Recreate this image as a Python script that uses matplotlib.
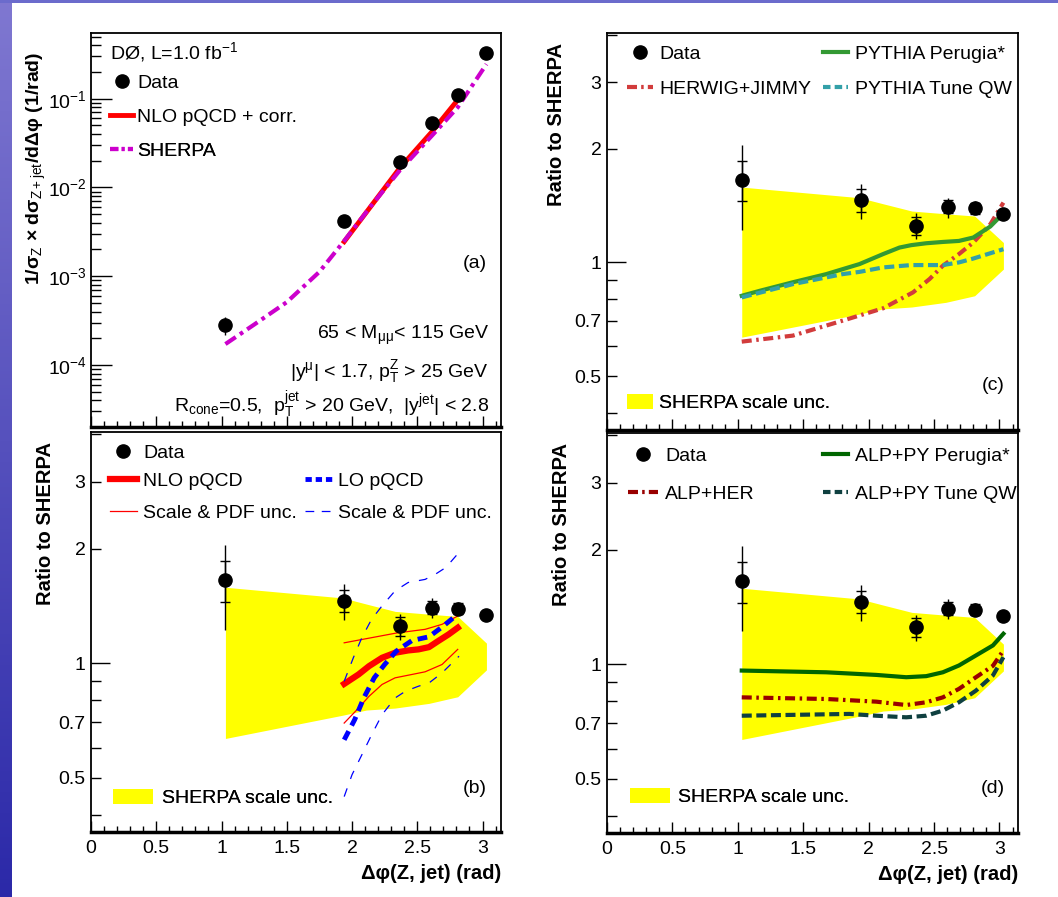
import numpy as np
import matplotlib
matplotlib.use('Agg')
import matplotlib.pyplot as plt
from matplotlib.lines import Line2D
from matplotlib.patches import Patch
from matplotlib.ticker import FixedLocator, FuncFormatter, MultipleLocator, LogLocator

plt.rcParams['font.family'] = ['Liberation Sans', 'DejaVu Sans']
plt.rcParams['mathtext.fontset'] = 'custom'
plt.rcParams['mathtext.rm'] = 'Liberation Sans'
plt.rcParams['mathtext.it'] = 'Liberation Sans:italic'
plt.rcParams['mathtext.bf'] = 'Liberation Sans:bold'

# ---- data ----
x_data = [1.03, 1.94, 2.365, 2.61, 2.81, 3.03]
xsec = [2.85e-4, 4.2e-3, 1.93e-2, 5.3e-2, 0.111, 0.33]
xsec_err_up = [0.6e-4, 0.45e-3, 1.5e-3, 3.2e-3, 4.5e-3, 7e-3]
xsec_err_dn = [0.7e-4, 0.45e-3, 1.5e-3, 3.2e-3, 4.5e-3, 7e-3]

ratio = [1.65, 1.46, 1.25, 1.40, 1.39, 1.34]
stat_up = [0.21, 0.10, 0.07, 0.06, 0.045, 0.02]
stat_dn = [0.20, 0.10, 0.07, 0.05, 0.045, 0.02]
tot_up = [0.39, 0.15, 0.10, 0.085, 0.06, 0.03]
tot_dn = [0.43, 0.16, 0.10, 0.085, 0.05, 0.03]

# panel (a) theory
sherpa_x = [1.03, 1.25, 1.5, 1.75, 1.94, 2.15, 2.365, 2.61, 2.81, 3.03]
sherpa_y = [1.72e-4, 2.85e-4, 5.1e-4, 1.12e-3, 2.5e-3, 6.3e-3, 1.55e-2, 3.8e-2, 8.0e-2, 0.245]
nlo_abs_x = [1.94, 2.365, 2.61, 2.81]
nlo_abs_y = [2.45e-3, 1.65e-2, 4.2e-2, 0.097]

# SHERPA scale uncertainty band (ratio)
band_x = [1.03, 1.93, 2.11, 2.33, 2.59, 2.81, 3.03]
band_up = [1.583, 1.484, 1.43, 1.368, 1.345, 1.327, 1.129]
band_dn = [0.634, 0.73, 0.753, 0.762, 0.784, 0.816, 0.96]

# panel (b)
nlo_x = [1.94, 2.05, 2.13, 2.23, 2.33, 2.43, 2.51, 2.59, 2.66, 2.74, 2.81]
nlo_r = [0.882, 0.934, 0.982, 1.033, 1.065, 1.080, 1.087, 1.102, 1.143, 1.19, 1.239]
nlo_up_x = [1.94, 2.34, 2.56, 2.69, 2.81]
nlo_up = [1.131, 1.20, 1.227, 1.265, 1.33]
nlo_dn_x = [1.94, 2.05, 2.13, 2.23, 2.33, 2.46, 2.56, 2.69, 2.81]
nlo_dn = [0.696, 0.762, 0.818, 0.879, 0.915, 0.934, 0.949, 0.992, 1.087]
lo_x = [1.94, 2.02, 2.09, 2.17, 2.25, 2.34, 2.46, 2.59, 2.70, 2.81]
lo_r = [0.629, 0.71, 0.81, 0.915, 0.992, 1.076, 1.147, 1.173, 1.252, 1.345]
lo_up_x = [1.94, 2.01, 2.075, 2.15, 2.23, 2.33, 2.43, 2.56, 2.64, 2.72, 2.82]
lo_up = [0.896, 1.033, 1.166, 1.304, 1.414, 1.549, 1.629, 1.66, 1.714, 1.785, 1.955]
lo_dn_x = [1.94, 2.0, 2.075, 2.15, 2.23, 2.33, 2.41, 2.51, 2.59, 2.69, 2.82]
lo_dn = [0.446, 0.509, 0.574, 0.648, 0.732, 0.81, 0.844, 0.87, 0.887, 0.943, 1.043]

# panel (c)
per_x = [1.03, 1.167, 1.42, 1.675, 1.93, 2.11, 2.236, 2.325, 2.44, 2.567, 2.69, 2.80, 2.93, 3.03]
per_r = [0.816, 0.841, 0.886, 0.931, 0.99, 1.052, 1.095, 1.111, 1.124, 1.133, 1.14, 1.164, 1.245, 1.349]
qw_x = [1.03, 1.42, 1.80, 1.93, 2.11, 2.325, 2.567, 2.69, 2.80, 3.03]
qw_r = [0.808, 0.876, 0.931, 0.944, 0.97, 0.984, 0.984, 1.0, 1.024, 1.084]
her_x = [1.03, 1.42, 1.80, 2.11, 2.339, 2.466, 2.567, 2.69, 2.80, 2.93, 3.03]
her_r = [0.617, 0.64, 0.701, 0.756, 0.833, 0.904, 0.98, 1.052, 1.129, 1.262, 1.44]

# panel (d)
alp_x = [1.03, 1.675, 2.058, 2.287, 2.44, 2.567, 2.69, 2.82, 2.95, 3.03]
alp_per = [0.962, 0.952, 0.937, 0.924, 0.93, 0.952, 0.992, 1.054, 1.12, 1.202]
alp_her = [0.818, 0.81, 0.797, 0.781, 0.794, 0.818, 0.861, 0.924, 0.99, 1.087]
alp_qw_x = [1.03, 1.854, 2.058, 2.287, 2.44, 2.567, 2.69, 2.82, 2.95, 3.03]
alp_qw = [0.732, 0.74, 0.732, 0.725, 0.732, 0.755, 0.794, 0.852, 0.934, 1.043]

FS = 14
W, H = 1058, 897
fig = plt.figure(figsize=(W / 100, H / 100), dpi=100)


def box(l, t, r, b):
    return [l / W, 1 - b / H, (r - l) / W, (b - t) / H]


# slide background strips
bg = fig.add_axes([0, 0, 12 / W, 1])
grad = np.linspace(0, 1, 256)[:, None]
top_c = np.array([0.50, 0.47, 0.82])
bot_c = np.array([0.17, 0.16, 0.66])
bg.imshow(top_c + grad[..., None] * (bot_c - top_c), aspect='auto')
bg.axis('off')
tp = fig.add_axes([0, 1 - 3 / H, 1, 3 / H])
tp.imshow(np.tile(np.array([0.42, 0.42, 0.80]), (1, 10, 1)), aspect='auto')
tp.axis('off')

ax_a = fig.add_axes(box(91, 33, 501, 427))
ax_b = fig.add_axes(box(91, 432, 501, 832))
ax_c = fig.add_axes(box(607, 33, 1018, 430))
ax_d = fig.add_axes(box(607, 433, 1018, 833))


def style(ax, ratio_panel, xlabels):
    ax.set_xlim(0, np.pi)
    ax.set_yscale('log')
    ax.xaxis.set_major_locator(MultipleLocator(0.5))
    ax.xaxis.set_minor_locator(MultipleLocator(0.1))
    ax.xaxis.set_major_formatter(FuncFormatter(lambda v, p: '%g' % v))
    ax.tick_params(which='both', direction='in', top=False, right=False,
                   labelsize=FS, width=1)
    ax.tick_params(axis='x', which='major', length=8, pad=6, labelbottom=xlabels)
    ax.tick_params(axis='x', which='minor', length=4)
    for sp in ax.spines.values():
        sp.set_linewidth(1.3)
    ax.spines['bottom'].set_linewidth(2.5)
    if ratio_panel:
        ax.set_ylim(0.36, 4.05)
        ax.yaxis.set_major_locator(FixedLocator([1]))
        ax.yaxis.set_major_formatter(FuncFormatter(lambda v, p: '1'))
        ax.yaxis.set_minor_locator(FixedLocator([0.4, 0.5, 0.6, 0.7, 0.8, 0.9, 2, 3, 4]))
        ax.yaxis.set_minor_formatter(FuncFormatter(
            lambda v, p: '%g' % v if round(v, 2) in (0.5, 0.7, 2.0, 3.0) else ''))
        ax.tick_params(axis='y', which='major', length=14, pad=4)
        ax.tick_params(axis='y', which='minor', length=7, pad=4)
        ax.fill_between(band_x, band_dn, band_up, color='#ffff00', lw=0, zorder=1)
        ax.text(-0.11 if ax is not ax_c else -0.122, 0.975, 'Ratio to SHERPA',
                rotation=90, ha='center', va='top', fontsize=FS + 0.5,
                fontweight='bold', transform=ax.transAxes)
    if xlabels:
        ax.text(1.0, -0.1025, 'Δφ(Z, jet) (rad)', ha='right', va='center',
                fontsize=FS + 0.5, fontweight='bold', transform=ax.transAxes)


def leg(ax, handle, label, x, y, hl, pad=0.3, hh=0.7):
    lg = ax.legend([handle], [label], loc='center left', bbox_to_anchor=(x, y),
                   bbox_transform=ax.transAxes, frameon=False, fontsize=FS,
                   handlelength=hl, handletextpad=pad, borderpad=0,
                   borderaxespad=0, handleheight=hh, numpoints=1)
    ax.add_artist(lg)


def draw_ratio_data(ax):
    ax.errorbar(x_data, ratio, yerr=[tot_dn, tot_up], fmt='none', ecolor='k',
                elinewidth=1.0, capsize=0, zorder=5)
    ax.errorbar(x_data, ratio, yerr=[stat_dn, stat_up], fmt='none', ecolor='k',
                elinewidth=1.0, capsize=3.6, capthick=1.0, zorder=5)
    ax.plot(x_data, ratio, 'o', color='k', ms=9.5, zorder=6)


data_h = Line2D([], [], marker='o', color='k', ls='none', ms=9.5)
band_h = Patch(facecolor='#ffff00', edgecolor='none')

# ---- (a) ----
style(ax_a, False, False)
ax_a.set_ylim(2e-5, 0.55)
ax_a.yaxis.set_major_locator(LogLocator(base=10, numticks=10))
ax_a.yaxis.set_major_formatter(FuncFormatter(
    lambda v, p: r'$\mathrm{10^{%d}}$' % round(np.log10(v))))
ax_a.yaxis.set_minor_locator(LogLocator(base=10, subs=np.arange(2, 10), numticks=20))
ax_a.tick_params(axis='y', which='major', length=15, pad=3)
ax_a.tick_params(axis='y', which='minor', length=7)
sh_style = (0, (3.0, 1.2, 0.9, 1.2))
ax_a.plot(sherpa_x, sherpa_y, color='#cc00cc', lw=3, ls=sh_style, zorder=3)
ax_a.plot(nlo_abs_x, nlo_abs_y, color='#ff0000', lw=3.5, zorder=2)
ax_a.errorbar(x_data, xsec, yerr=[xsec_err_dn, xsec_err_up], fmt='o', color='k',
              ms=9.5, elinewidth=1.0, capsize=0, zorder=5)
ax_a.text(-0.134, 0.952, r'1/σ$_\mathrm{Z}$ × dσ$_\mathrm{Z+jet}$/dΔφ (1/rad)',
          rotation=90, ha='center', va='top', fontsize=FS, fontweight='bold',
          transform=ax_a.transAxes)
ax_a.text(0.046, 0.952, r'DØ, L=1.0 fb$^{\mathrm{-1}}$', ha='left', va='center',
          fontsize=FS, transform=ax_a.transAxes)
leg(ax_a, data_h, 'Data', 0.046, 0.873, 1.2, 0.2)
leg(ax_a, Line2D([], [], color='#ff0000', lw=3.5), 'NLO pQCD + corr.', 0.046, 0.787, 1.2, 0.2)
leg(ax_a, Line2D([], [], color='#cc00cc', lw=3, ls=(0, (2.0, 0.8, 0.7, 0.8))),
    'SHERPA', 0.046, 0.701, 1.2, 0.2)
ax_a.text(0.971, 0.233, r'65 < M$_{\mathrm{\mu\mu}}$< 115 GeV', ha='right', va='center',
          fontsize=FS, transform=ax_a.transAxes)
ax_a.text(0.971, 0.14, r'|y$^{\mathrm{\mu}}$| < 1.7, p$_\mathrm{T}^\mathrm{Z}$ > 25 GeV',
          ha='right', va='center', fontsize=FS, transform=ax_a.transAxes)
ax_a.text(0.971, 0.056,
          r'R$_{\mathrm{cone}}$=0.5,  p$_\mathrm{T}^\mathrm{jet}$ > 20 GeV,  |y$^{\mathrm{jet}}$| < 2.8',
          ha='right', va='center', fontsize=FS, transform=ax_a.transAxes)
ax_a.text(0.937, 0.416, '(a)', ha='center', va='center', fontsize=FS,
          transform=ax_a.transAxes)

# ---- (b) ----
style(ax_b, True, True)
ax_b.plot(nlo_x, nlo_r, color='#ff0000', lw=4.5, zorder=3)
ax_b.plot(nlo_up_x, nlo_up, color='#ff0000', lw=0.9, zorder=3)
ax_b.plot(nlo_dn_x, nlo_dn, color='#ff0000', lw=0.9, zorder=3)
ax_b.plot(lo_x, lo_r, color='#0000ff', lw=3.5, ls=(0, (2.0, 1.3)), zorder=4)
ax_b.plot(lo_up_x, lo_up, color='#0000ff', lw=0.9, ls=(0, (7, 8)), zorder=3)
ax_b.plot(lo_dn_x, lo_dn, color='#0000ff', lw=0.9, ls=(0, (7, 8)), zorder=3)
draw_ratio_data(ax_b)
leg(ax_b, data_h, 'Data', 0.046, 0.9475, 1.4, 0.3)
leg(ax_b, Line2D([], [], color='#ff0000', lw=4.5), 'NLO pQCD', 0.046, 0.8775, 1.4, 0.3)
leg(ax_b, Line2D([], [], color='#0000ff', lw=3.5, ls=(0, (1.3, 0.8))), 'LO pQCD',
    0.522, 0.8775, 1.4, 0.3)
leg(ax_b, Line2D([], [], color='#ff0000', lw=0.9), 'Scale & PDF unc.', 0.046, 0.7975, 1.4, 0.3)
leg(ax_b, Line2D([], [], color='#0000ff', lw=0.9, ls=(0, (7, 6))), 'Scale & PDF unc.',
    0.522, 0.7975, 1.4, 0.3)
leg(ax_b, band_h, 'SHERPA scale unc.', 0.054, 0.085, 2.05, 0.45, 0.8)
ax_b.text(0.937, 0.11, '(b)', ha='center', va='center', fontsize=FS,
          transform=ax_b.transAxes)

# ---- (c) ----
style(ax_c, True, False)
her_style = (0, (2.4, 1.1, 0.6, 1.1))
ax_c.plot(her_x, her_r, color='#d23c3c', lw=3, ls=her_style, zorder=3)
ax_c.plot(per_x, per_r, color='#339933', lw=3, zorder=3)
ax_c.plot(qw_x, qw_r, color='#33a0a8', lw=3, ls=(0, (2.4, 1.1)), zorder=4)
draw_ratio_data(ax_c)
leg(ax_c, data_h, 'Data', 0.0487, 0.947, 1.35, 0.3)
leg(ax_c, Line2D([], [], color='#339933', lw=3), 'PYTHIA Perugia*', 0.5255, 0.947, 1.3, 0.35)
leg(ax_c, Line2D([], [], color='#d23c3c', lw=3, ls=(0, (2.4, 1.0, 0.6, 1.0))),
    'HERWIG+JIMMY', 0.0487, 0.859, 1.35, 0.3)
leg(ax_c, Line2D([], [], color='#33a0a8', lw=3, ls=(0, (1.8, 1.0))), 'PYTHIA Tune QW',
    0.5255, 0.859, 1.3, 0.35)
leg(ax_c, band_h, 'SHERPA scale unc.', 0.0487, 0.068, 1.35, 0.3, 0.8)
ax_c.text(0.939, 0.113, '(c)', ha='center', va='center', fontsize=FS,
          transform=ax_c.transAxes)

# ---- (d) ----
style(ax_d, True, True)
ax_d.plot(alp_x, alp_her, color='#990000', lw=3, ls=her_style, zorder=3)
ax_d.plot(alp_qw_x, alp_qw, color='#0f4040', lw=3, ls=(0, (2.4, 1.1)), zorder=3)
ax_d.plot(alp_x, alp_per, color='#006600', lw=3, zorder=4)
draw_ratio_data(ax_d)
leg(ax_d, data_h, 'Data', 0.051, 0.9425, 1.55, 0.35)
leg(ax_d, Line2D([], [], color='#006600', lw=3), 'ALP+PY Perugia*', 0.5255, 0.9425, 1.3, 0.35)
leg(ax_d, Line2D([], [], color='#990000', lw=3, ls=(0, (2.4, 1.0, 0.6, 1.0))),
    'ALP+HER', 0.051, 0.8475, 1.55, 0.35)
leg(ax_d, Line2D([], [], color='#0f4040', lw=3, ls=(0, (1.8, 1.0))), 'ALP+PY Tune QW',
    0.5255, 0.8475, 1.3, 0.35)
leg(ax_d, band_h, 'SHERPA scale unc.', 0.056, 0.09, 2.05, 0.4, 0.8)
ax_d.text(0.939, 0.1125, '(d)', ha='center', va='center', fontsize=FS,
          transform=ax_d.transAxes)

fig.savefig('out.png', dpi=100)
